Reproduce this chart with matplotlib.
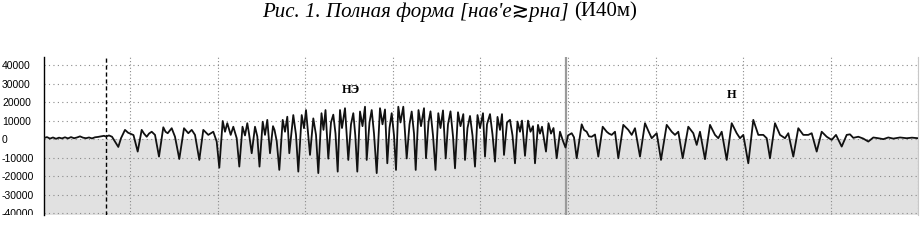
import matplotlib
matplotlib.use('Agg')
import matplotlib.pyplot as plt
import matplotlib.transforms as mtransforms
from matplotlib.transforms import Bbox, TransformedBbox
import numpy as np

# Waveform: time (ms from left edge) and amplitude
t_ms = [0, 3, 6, 9, 12, 15, 18, 21, 24, 27, 30, 33, 36, 39, 42, 45, 48, 51, 54, 57,
        60, 62, 65, 68, 74.3, 77, 81, 84, 87, 89.5, 93.7, 97.7, 100, 102.7, 105, 107.7,
        111, 115, 119.3, 121.5, 123.7, 127.7, 131, 135.3, 140, 144.3, 147.7, 151, 155.3,
        159.3, 162, 164.3, 169.3, 172.7, 175.3, 178.7, 181, 183.3, 186.7, 189.3, 192.7,
        195.3, 198.5, 201, 203.3, 205, 207.7, 211, 213.3, 215.5, 218.7, 221, 223.3, 226,
        229, 230.5, 232.7, 235.3, 238.7, 241, 243.3, 245.3, 249.3, 252, 254.3, 257.7, 260,
        262, 266, 269.3, 272, 274.3, 277.5, 279.5, 281.5, 284.3, 287, 289.3, 291.5, 293.7,
        296, 298, 301, 304.3, 307, 309.3, 311.3, 313.3, 316, 318.5, 321, 322.7, 325.5,
        327.7, 330, 332.7, 336, 338.5, 341, 343.3, 345.5, 347.7, 350, 352, 354.3, 356.5,
        359.3, 362.7, 365.5, 367.7, 370, 371.7, 374.5, 377, 380, 382, 384.5, 386.5, 389,
        391.5, 394.3, 396.5, 399, 401.7, 404, 406.5, 409, 411, 414, 416.5, 419.3, 421,
        423.5, 426, 428.5, 431, 433.5, 436, 439, 441, 443, 446, 448.5, 451, 453.5, 456,
        458, 460, 463, 466, 468.5, 471, 473.5, 476, 478, 481, 484, 486.5, 489, 491, 494,
        496, 498, 502, 504.5, 507, 509.5, 512.7, 516, 519, 521.5, 524, 527.7, 530, 532.7,
        537.7, 540, 542.7, 545, 547.7, 551, 554.3, 558.7, 562.7, 565, 567.7, 571, 574.3,
        579.3, 584.3, 587.7, 591, 596, 601, 604.3, 607.7, 612.7, 617, 622.7, 627.7, 631,
        634.3, 638.7, 644.3, 649.3, 652.7, 656, 661, 666, 671, 674.3, 677.7, 682.7, 687.7,
        692.7, 696, 699.3, 704.3, 709.3, 714.3, 719.3, 722.7, 726, 731, 736, 741, 744.3,
        749.3, 754.3, 759.3, 764.3, 767.7, 772.7, 777.7, 782.7, 787.7, 792, 797.7, 802.7,
        806, 809.3, 814.3, 819.3, 824.3, 829.3, 834.3, 839.3, 844.3, 849.3, 856, 862.7,
        868, 874]
amp = [600, 1100, 300, 900, 200, 800, 400, 1000, 400, 1100, 500, 900, 1500, 800, 500,
       900, 400, 1000, 1200, 1500, 1800, 1400, 2000, 1300, -4200, 500, 5000, 3500, 2800,
       2200, -6700, 5000, 3000, 1300, 3000, 4000, 2300, -9400, 6400, 4000, 3200, 5900,
       1300, -10700, 5900, 3200, 5000, 2300, -11200, 5000, 3500, 2300, 4000, -1300,
       -15400, 9800, 4000, 8600, 2300, 6700, 500, -14800, 6700, 2000, 8600, 3000, -7600,
       6700, 1500, -14800, 9400, 2300, 10400, -7600, 7000, 5000, -1000, -16600, 10400,
       4000, 12100, -7600, 13000, 2300, -17500, 13000, 5900, 15700, -8500, 11200, 2300,
       -18300, 14000, 5000, 15700, -10500, 9000, 13200, 3000, -17500, 15700, 6000, 16700,
       -11200, 8000, 14000, 2000, -17500, 14900, 7000, 17500, -11200, 9000, 15700, 3000,
       -18300, 16700, 8000, 16000, -13000, 6000, 14000, 2000, -16600, 17500, 9000, 17500,
       -10400, 8000, 14900, 3000, -16600, 15700, 7000, 16700, -10300, 9000, 15000, 2000,
       -16600, 14000, 6000, 15500, -10400, 8000, 15000, 1500, -15700, 14500, 7000, 13500,
       -11200, 6000, 12500, 2000, -14800, 13000, 6000, 14000, -9400, 8000, 13500, 2500,
       -12100, 12000, 5000, 13500, -8500, 9000, 10400, 2000, -13000, 9500, 4000, 10000,
       -9000, 10000, 4000, 7000, -13000, 7700, 3000, 6700, -6700, 8600, 3000, 6000, -10300,
       4000, -1000, -4500, 2000, 3200, 1000, -10300, 8000, 5000, 4000, 1500, 1300, 2500,
       -9400, 6700, 4000, 3000, 2300, 4000, -10300, 7700, 5000, 2300, 5900, -9400, 8600,
       4500, 500, 3200, -11200, 7700, 4000, 2300, 4000, -10300, 6700, 3200, -3100, 4000,
       -10800, 7700, 2300, 500, 4000, -11200, 8600, 3200, 500, 2300, -13000, 10400, 2300,
       2300, 500, -10300, 8600, 2300, 500, 3200, -9400, 5900, 2300, 2300, 3200, -6700,
       4000, 1300, -400, 2300, -4000, 2300, 2600, 700, 1300, 300, -1300, 900, 500, 0,
       900, 300, 900, 500, 800, 500]

y_ticks = [40000, 30000, 20000, 10000, 0, -10000, -20000, -30000, -40000]
y_labels = ['40000', '30000', '20000', '10000', '0', '-10000', '-20000', '-30000', '-40000']
grid_step = 87.6
marker_dashed = 62     # black dashed cursor
marker_solid = 522     # grey solid cursor
labels = [('НЭ', 307, 26500), ('Н', 688, 23800)]
title_italic = "Рис. 1. Полная форма [нав'е≳рна]"
title_plain = "(И40м)"

W, H = 922, 249
fig = plt.figure(figsize=(W / 100, H / 100), dpi=100)
ax_bottom = 1 - 215 / H
ax = fig.add_axes([44 / W, ax_bottom, 874 / W, 158 / H])
ax.set_xlim(0, 874)
ax.set_ylim(-40900, 44300)

# grey background under zero
ax.axhspan(-40900, 0, color='#e1e1e1', lw=0, zorder=0)

for y in y_ticks:
    ax.axhline(y, color='#8a8a8a', lw=0.8, ls=(0, (1, 3)), zorder=1)
for x in np.arange(86, 875, grid_step):
    ax.axvline(x, color='#8a8a8a', lw=0.8, ls=(0, (1, 2)), zorder=1)

ax.axvline(marker_dashed, color='black', lw=1.0, ls=(0, (3, 2)), zorder=2)
ax.axvline(marker_solid, color='#9a9a9a', lw=1.6, zorder=2)

ax.plot(t_ms, amp, color='#111111', lw=1.3, zorder=3)

for txt, x, y in labels:
    ax.text(x, y, txt, ha='center', va='center', fontsize=9, fontweight='bold',
            family=['Liberation Serif', 'DejaVu Serif'], zorder=4)

ax.set_xticks([])
ax.set_yticks([])
for side in ['top', 'bottom']:
    ax.spines[side].set_visible(False)
ax.spines['left'].set_color('black')
ax.spines['left'].set_linewidth(1.0)
ax.spines['right'].set_color('#c8c8c8')

# y labels, left aligned, cut off at the bottom edge of the plot
clip_box = TransformedBbox(Bbox([[0, ax_bottom], [1, 1]]), fig.transFigure)
trans = mtransforms.blended_transform_factory(fig.transFigure, ax.transData)
for v, lab in zip(y_ticks, y_labels):
    t = fig.text(2 / W, v - 600, lab, transform=trans, ha='left', va='center',
                 fontsize=7.5, family=['Liberation Sans', 'DejaVu Sans'])
    t.set_clip_on(True)
    t.set_clip_box(clip_box)

# title: italic part then upright part
t1 = fig.text(262 / W, 1 - 12 / H, title_italic, ha='left', va='center',
              fontsize=15, style='italic',
              family=['Liberation Serif', 'DejaVu Serif', 'DejaVu Sans'])
fig.canvas.draw()
x_end = t1.get_window_extent().x1 / W
fig.text(x_end + 5 / W, 1 - 12 / H, title_plain, ha='left', va='center',
         fontsize=15, family=['Liberation Serif', 'DejaVu Serif'])

fig.savefig('out.png', dpi=100)
